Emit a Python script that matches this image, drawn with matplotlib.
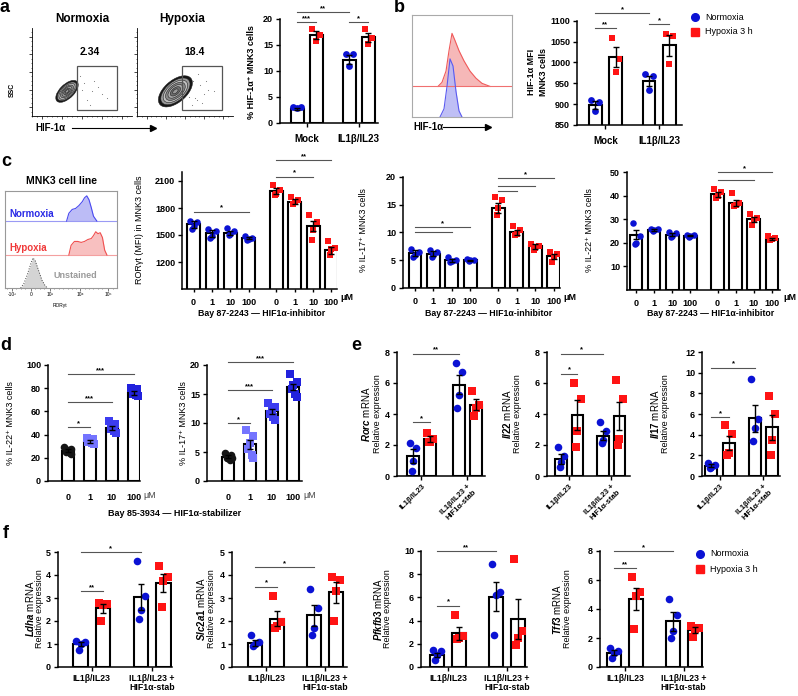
import matplotlib
matplotlib.use('Agg')
import matplotlib.pyplot as plt
from matplotlib.patches import Ellipse, Rectangle
from matplotlib.lines import Line2D

# ======================= DATA =======================
# ---- a: flow plots + % HIF-1a+ bar chart
a_flow_titles = ['Normoxia', 'Hypoxia']
a_flow_pct = ['2.34', '18.4']
a_blob_cx = [35, 40]
a_blob_cy = [28, 28]
a_blob_len = [30, 44]
a_blob_wid = [15, 24]
a_blob_ang = [50, 45]
a_ring_scale = [1.0, 0.86, 0.72, 0.58, 0.44, 0.30, 0.16]
a_ring_gray = ['#151515', '#9a9a9a', '#c0c0c0', '#8a8a8a', '#aaaaaa', '#6e6e6e', '#999999']
a_dots_nx = [50, 55, 62, 70, 58, 66, 48, 75, 52, 60]
a_dots_ny = [30, 18, 40, 25, 12, 33, 45, 20, 38, 28]
a_dots_hx = [50, 54, 58, 62, 66, 70, 74, 52, 57, 64, 68, 80, 55, 60, 72, 49]
a_dots_hy = [30, 22, 40, 18, 35, 25, 30, 45, 12, 48, 15, 28, 33, 20, 40, 38]
a_groups = ['Mock', 'IL1β/IL23']
a_means = [2.7, 16.9, 12.2, 16.5]
a_sems = [0.15, 0.8, 0.9, 0.9]
a_pts = [[3.1, 3.0, 2.9], [18.0, 17.0, 15.8], [13.3, 13.2, 11.0], [18.0, 16.3, 15.2]]
a_sig = [(0, 1, 19.4, '***'), (0, 2, 21.3, '**'), (2, 3, 19.4, '*')]

# ---- b: histogram + HIF-1a MFI
b_red_x = [26, 30, 34, 37, 40, 43, 47, 52, 58, 64, 70, 78]
b_red_h = [0, 4, 15, 35, 52, 45, 35, 25, 15, 8, 3, 0]
b_blue_x = [28, 32, 35, 38, 41, 44, 47, 50]
b_blue_h = [0, 8, 30, 57, 50, 25, 6, 0]
b_means = [898, 1013, 956, 1041]
b_sems = [10, 25, 12, 25]
b_pts = [[910, 905, 883], [1058, 1008, 977], [972, 968, 933], [1068, 1063, 997]]
b_sig = [(0, 1, 1083, '**'), (0, 2, 1119, '*'), (2, 3, 1093, '*')]

# ---- c: RORgt histograms + inhibitor dose series
c_blue_x = [55, 57, 60, 63, 66, 69, 71, 73, 75, 77, 79, 82]
c_blue_h = [0, 8, 12, 13, 16, 20, 24, 26, 22, 14, 5, 0]
c_red_x = [57, 59, 62, 65, 68, 71, 74, 77, 79, 81, 83, 85, 87, 89, 91]
c_red_h = [0, 10, 14, 14, 13, 14, 16, 17, 20, 24, 22, 23, 18, 5, 0]
c_gray_x = [14, 17, 20, 23, 25, 27, 30, 33, 36, 38]
c_gray_h = [0, 5, 14, 25, 31, 28, 18, 8, 2, 0]
c_hist_ticks = ['-10³', '0', '10³', '10⁴', '10⁵']
c_doses = ['0', '1', '10', '100']
c1_means = [1620, 1520, 1525, 1465, 1990, 1870, 1600, 1330]
c1_sems = [40, 40, 25, 10, 35, 30, 60, 40]
c1_pts = [[1660, 1640, 1600, 1570], [1570, 1540, 1490, 1470], [1580, 1540, 1510, 1500],
          [1490, 1470, 1460, 1450], [2060, 2000, 1960, 1950], [1920, 1890, 1870, 1850],
          [1720, 1640, 1560, 1450], [1430, 1360, 1340, 1280]]
c1_sig = [(0, 3, 1760, '*'), (4, 7, 2330, '**'), (4, 6, 2150, '*')]
c2_means = [6.3, 6.2, 5.0, 5.0, 14.5, 10.0, 7.5, 5.7]
c2_sems = [0.5, 0.4, 0.3, 0.1, 0.9, 0.5, 0.4, 0.5]
c2_pts = [[7.0, 6.5, 6.0, 5.6], [6.8, 6.4, 6.0, 5.6], [5.6, 5.0, 4.8, 4.6], [5.2, 5.1, 5.0, 4.9],
          [16.4, 15.8, 14.4, 13.1], [11.2, 10.5, 9.8, 9.5], [7.9, 7.5, 7.2, 6.8], [6.4, 6.1, 5.6, 4.6]]
c2_sig = [(0, 3, 11.0, '*'), (0, 2, 10.1, ''), (4, 7, 19.8, '*'), (4, 6, 18.4, ''), (4, 5, 17.5, '')]
c3_means = [23.5, 25.5, 23.5, 23.0, 40.5, 37.0, 30.0, 21.5]
c3_sems = [2.1, 0.3, 0.5, 0.3, 1.0, 1.3, 1.0, 0.5]
c3_pts = [[28.5, 23, 20, 19.5], [26, 25.8, 25.5, 25], [24.5, 24, 23, 22.5], [23.5, 23.2, 23, 22.5],
          [43, 41.5, 40, 39], [41, 37, 36, 35.5], [32, 30.5, 29.5, 27.5], [23, 22, 21.5, 21]]
c3_sig = [(4, 7, 49.8, '*'), (4, 6, 46.8, '')]

# ---- d: stabilizer dose series
d1_means = [26, 34, 46, 76]
d1_sems = [1.2, 1.0, 1.8, 1.5]
d1_pts = [[29, 28, 27, 25, 24, 23], [37, 36, 35, 34, 33, 32], [52, 49, 47, 45, 43, 41],
          [80, 79, 77, 75, 74, 73]]
d1_sig = [(0, 1, 46.5, '*'), (0, 2, 68, '***'), (0, 3, 92, '***')]
d2_means = [4.2, 6.3, 12.0, 16.2]
d2_sems = [0.2, 0.8, 0.5, 0.5]
d2_pts = [[4.8, 4.5, 4.2, 3.9, 3.7, 4.0], [8.8, 7.8, 6.5, 5.5, 4.5, 3.9], [13.5, 12.8, 12.2, 11.5, 11.0, 10.5],
          [18.5, 17.0, 16.5, 15.8, 15.0, 14.5]]
d2_sig = [(0, 1, 10.0, '*'), (0, 2, 15.7, '***'), (0, 3, 20.5, '***')]

# ---- e: qPCR
e_groups = ['IL1β/IL23', 'IL1β/IL23 +\nHIF1α-stab']
e_genes = ['Rorc', 'Il22', 'Il17']
e1_means = [1.3, 2.4, 5.9, 4.6]
e1_sems = [0.45, 0.2, 0.6, 0.35]
e1_pts = [[2.1, 1.8, 1.0, 0.3], [2.8, 2.4, 2.2, 2.2], [7.3, 6.7, 5.2, 4.4], [5.5, 4.6, 4.4, 3.9]]
e1_sig = [(0, 1, 3.5, '*'), (0, 2, 7.9, '**')]
e2_means = [1.1, 3.95, 2.6, 3.9]
e2_sems = [0.3, 0.95, 0.3, 0.9]
e2_pts = [[1.9, 1.3, 0.9, 0.6], [6.0, 5.0, 2.9, 1.9], [3.5, 2.9, 2.3, 2.1], [6.2, 5.0, 2.4, 2.0]]
e2_sig = [(0, 1, 6.6, '*'), (0, 2, 7.9, '*')]
e3_means = [1.0, 3.2, 5.6, 4.7]
e3_sems = [0.15, 0.7, 1.3, 1.2]
e3_pts = [[1.3, 1.1, 0.9, 0.8], [4.9, 4.1, 2.2, 2.0], [9.4, 5.5, 4.6, 3.4], [7.7, 6.0, 3.5, 2.0]]
e3_sig = [(0, 1, 5.7, '*'), (0, 2, 10.5, '*')]

# ---- f: qPCR
f_genes = ['Ldha', 'Slc2a1', 'Pfkfb3', 'Tff3']
f1_means = [1.0, 2.55, 3.05, 3.65]
f1_sems = [0.1, 0.2, 0.55, 0.4]
f1_pts = [[1.15, 1.1, 1.0, 0.75], [2.8, 2.75, 2.7, 2.0], [4.6, 3.1, 2.5, 2.1], [4.4, 3.9, 3.75, 2.6]]
f1_sig = [(0, 1, 3.3, '**'), (0, 2, 5.0, '*')]
f2_means = [1.05, 2.1, 2.25, 3.25]
f2_sems = [0.12, 0.33, 0.45, 0.45]
f2_pts = [[1.4, 1.1, 1.0, 0.9], [3.1, 1.95, 1.8, 1.7], [3.4, 2.55, 1.7, 1.4], [3.9, 3.8, 3.3, 2.0]]
f2_sig = [(0, 1, 3.5, '*'), (0, 2, 4.35, '*')]
f3_means = [1.05, 2.9, 6.05, 4.15]
f3_sems = [0.2, 0.55, 1.25, 1.75]
f3_pts = [[1.5, 1.4, 1.0, 0.6], [4.5, 2.7, 2.5, 2.4], [8.9, 6.5, 6.2, 2.8], [9.3, 3.1, 2.5, 1.9]]
f3_sig = [(0, 1, 5.3, '*'), (0, 2, 10.0, '**')]
f4_means = [1.0, 4.7, 3.15, 2.55]
f4_sems = [0.15, 0.75, 0.65, 0.2]
f4_pts = [[1.3, 1.1, 1.0, 0.6], [6.2, 5.2, 4.9, 2.6], [4.7, 3.6, 2.5, 2.0], [2.8, 2.7, 2.6, 2.1]]
f4_sig = [(0, 1, 6.8, '**'), (0, 2, 8.0, '*')]

legend_labels = ['Normoxia', 'Hypoxia 3 h']

# ======================= STYLE / HELPERS =======================
W, H = 798, 696
plt.rcParams['font.family'] = ['Liberation Sans', 'DejaVu Sans']
plt.rcParams['font.weight'] = 'bold'
plt.rcParams['mathtext.fontset'] = 'custom'
plt.rcParams['mathtext.it'] = 'Liberation Sans:italic'
plt.rcParams['mathtext.rm'] = 'Liberation Sans'
BLUE = '#0b12d4'
RED = '#ff1414'
NH_COL = [BLUE, RED, BLUE, RED]
NH_MK = ['o', 's', 'o', 's']

fig = plt.figure(figsize=(W / 100, H / 100), dpi=100)


def ax_px(l, t, r, b):
    return fig.add_axes([l / W, 1 - b / H, (r - l) / W, (b - t) / H])


def ftxt(x, y, s, **kw):
    kw.setdefault('ha', 'center')
    kw.setdefault('va', 'center')
    fig.text(x / W, 1 - y / H, s, **kw)


def style_bar_ax(ax, xlim, ylim, yticks, ls=6.5):
    ax.set_xlim(*xlim)
    ax.set_ylim(*ylim)
    for s in ['top', 'right']:
        ax.spines[s].set_visible(False)
    for s in ['left', 'bottom']:
        ax.spines[s].set_linewidth(1.1)
    ax.set_yticks(yticks)
    ax.tick_params(axis='both', length=3, width=1, labelsize=ls, pad=2)
    ax.patch.set_alpha(0)


JIT = [-0.28, 0.28, 0.0, -0.12, 0.14, 0.3, -0.3]


def draw_bars(ax, pos, means, sems, pts, cols, mks, width, ms=24):
    for i, p in enumerate(pos):
        ax.bar(p, means[i], width=width, color='white', edgecolor='black', linewidth=1.5, zorder=2)
        ys = pts[i]
        xs = [p + JIT[k % len(JIT)] * width for k in range(len(ys))]
        ax.scatter(xs, ys, s=ms, c=cols[i], marker=mks[i], zorder=3, linewidths=0, clip_on=False)
        ax.errorbar(p, means[i], yerr=sems[i], color='black', capsize=2.5, elinewidth=1,
                    capthick=1, zorder=4)


def draw_sig(ax, pos, sigs, color='#555555'):
    for i, j, y, lab in sigs:
        ax.plot([pos[i], pos[j]], [y, y], color=color, lw=0.8, clip_on=False, zorder=5)
        if lab:
            ax.text((pos[i] + pos[j]) / 2, y, lab, ha='center', va='bottom', fontsize=5.5,
                    clip_on=False)


def arrow_label(x0, y, x1, x2):
    ftxt(x0, y, 'HIF-1α', ha='left', fontsize=7)
    fig.add_artist(plt.Line2D([x1 / W, x2 / W], [1 - y / H, 1 - y / H], color='black', lw=0.8,
                              transform=fig.transFigure))
    fig.add_artist(plt.Line2D([x2 / W], [1 - y / H], marker='>', color='black', markersize=5,
                              transform=fig.transFigure))


def legend_at(x, y):
    fig.add_artist(Line2D([x / W], [1 - y / H], marker='o', color=BLUE, markersize=5.5,
                          linestyle='none', transform=fig.transFigure))
    fig.add_artist(Line2D([x / W], [1 - (y + 15) / H], marker='s', color=RED, markersize=5.5,
                          linestyle='none', transform=fig.transFigure))
    ftxt(x + 10, y, legend_labels[0], ha='left', fontsize=6.5, fontweight='normal')
    ftxt(x + 10, y + 15, legend_labels[1], ha='left', fontsize=6.5, fontweight='normal')


# ======================= PANEL a =======================
ftxt(5, 8, 'a', fontsize=13)
flow_boxes = [(32, 28, 132, 116), (137, 28, 233, 116)]
gates = [(45, 7, 40, 50), (47, 7, 42, 50)]
dots = [(a_dots_nx, a_dots_ny), (a_dots_hx, a_dots_hy)]
for k in range(2):
    ax = ax_px(*flow_boxes[k])
    ax.set_xlim(0, 100)
    ax.set_ylim(0, 100)
    for s in ['top', 'right']:
        ax.spines[s].set_visible(False)
    for s in ['left', 'bottom']:
        ax.spines[s].set_linewidth(0.6)
    ax.set_xticks([10, 30, 50, 70, 90])
    ax.set_yticks([10, 30, 50, 70, 90])
    ax.set_xticks(range(0, 100, 5), minor=True)
    ax.set_yticks(range(0, 100, 5), minor=True)
    ax.tick_params(which='major', length=2, width=0.5, labelbottom=False, labelleft=False)
    ax.tick_params(which='minor', length=1, width=0.4)
    ax.scatter(dots[k][0], dots[k][1], s=0.6, c='#777777', linewidths=0)
    for sc, g in zip(a_ring_scale, a_ring_gray):
        ax.add_patch(Ellipse((a_blob_cx[k], a_blob_cy[k]), a_blob_len[k] * sc, a_blob_wid[k] * sc,
                             angle=a_blob_ang[k], facecolor=g, edgecolor='#202020', lw=0.4))
    gx, gy, gw, gh = gates[k]
    ax.add_patch(Rectangle((gx, gy), gw, gh, fill=False, edgecolor='#555555', lw=0.9))
ftxt(82, 19, a_flow_titles[0], fontsize=8.5)
ftxt(182, 19, a_flow_titles[1], fontsize=8.5)
ftxt(90, 52, a_flow_pct[0], fontsize=7.5)
ftxt(195, 52, a_flow_pct[1], fontsize=7.5)
ftxt(12, 90, 'SSC', rotation=90, fontsize=5)
arrow_label(35, 128, 72, 153)

pos4 = [0, 1, 2.74, 3.74]
ax = ax_px(280, 19, 378, 123)
style_bar_ax(ax, (-0.9, 4.26), (0, 20), [0, 5, 10, 15, 20])
draw_bars(ax, pos4, a_means, a_sems, a_pts, NH_COL, NH_MK, 0.68)
draw_sig(ax, pos4, a_sig)
ax.set_xticks([0.5, 3.24])
ax.set_xticklabels(a_groups, fontsize=7)
ax.tick_params(axis='x', pad=5)
ftxt(251, 72, '% HIF-1α⁺ MNK3 cells', rotation=90, fontsize=6.5)

# ======================= PANEL b =======================
ftxt(399, 8, 'b', fontsize=13)
ax = ax_px(412, 15, 512, 117)
ax.set_xlim(0, 100)
ax.set_ylim(0, 100)
ax.set_xticks([])
ax.set_yticks([])
for s in ax.spines.values():
    s.set_color('#aaaaaa')
    s.set_linewidth(0.8)
base_r = 30
ax.fill_between(b_red_x, base_r, [base_r + h for h in b_red_h], color='#f6b8b8', lw=0)
ax.plot(b_red_x, [base_r + h for h in b_red_h], color='#f05a5a', lw=0.8)
ax.axhline(base_r, color='#f07070', lw=0.8)
ax.fill_between(b_blue_x, 0, b_blue_h, color='#b8b8f4', lw=0, alpha=0.9)
ax.plot(b_blue_x, b_blue_h, color='#5a5af0', lw=0.8)
arrow_label(413, 127, 443, 488)

pos4b = [0, 1, 2.63, 3.63]
ax = ax_px(577, 21, 682, 124.75)
style_bar_ax(ax, (-0.88, 4.24), (850, 1100), [850, 900, 950, 1000, 1050, 1100])
draw_bars(ax, pos4b, b_means, b_sems, b_pts, NH_COL, NH_MK, 0.63)
draw_sig(ax, pos4b, b_sig)
ax.set_xticks([0.5, 3.13])
ax.set_xticklabels(a_groups, fontsize=7)
ax.tick_params(axis='x', pad=5)
ftxt(531, 72, 'HIF-1α MFI', rotation=90, fontsize=6.5)
ftxt(543, 72, 'MNK3 cells', rotation=90, fontsize=6.5)
legend_at(695, 17)

# ======================= PANEL c =======================
ftxt(6, 161, 'c', fontsize=13)
ftxt(62, 181, 'MNK3 cell line', fontsize=7.5)
ax = ax_px(5, 191, 117, 288)
ax.set_xlim(0, 100)
ax.set_ylim(0, 100)
ax.set_yticks([])
for s in ax.spines.values():
    s.set_color('#999999')
    s.set_linewidth(0.8)
ax.set_xticks([6, 23, 40, 67, 92])
ax.set_xticklabels(c_hist_ticks, fontsize=3.5, fontweight='normal')
ax.set_xticks([2, 10, 14, 18, 27, 31, 35, 44, 48, 52, 56, 60, 63, 71, 75, 79, 83, 87, 96], minor=True)
ax.tick_params(which='major', length=2, width=0.5, pad=1, color='#444444')
ax.tick_params(which='minor', length=1, width=0.4, color='#444444')
bb, br = 69, 34
ax.axhline(bb, color='#9a9af4', lw=0.8)
ax.fill_between(c_blue_x, bb, [bb + h for h in c_blue_h], color='#bcbcf6', lw=0)
ax.plot(c_blue_x, [bb + h for h in c_blue_h], color='#4a4af0', lw=0.8)
ax.axhline(br, color='#f4a0a0', lw=0.8)
ax.fill_between(c_red_x, br, [br + h for h in c_red_h], color='#f8c0c0', lw=0)
ax.plot(c_red_x, [br + h for h in c_red_h], color='#f05050', lw=0.8)
ax.fill_between(c_gray_x, 0, c_gray_h, color='#d4d4d4', lw=0)
ax.plot(c_gray_x, c_gray_h, color='#444444', lw=0.7, ls=':')
ftxt(9, 214, 'Normoxia', ha='left', fontsize=7, color='#2a2ae6')
ftxt(9, 248, 'Hypoxia', ha='left', fontsize=7, color='#f03a3a')
ftxt(75, 275, 'Unstained', fontsize=6.5, color='#9a9a9a')
ftxt(60, 305, 'RORγt', fontsize=3.5, fontweight='normal')

pos8 = [0, 1, 2, 3, 4.5, 5.5, 6.5, 7.5]
c_specs = [
    ((182, 172, 337, 289), (-0.63, 7.8), (900, 2200), [1200, 1500, 1800, 2100],
     c1_means, c1_sems, c1_pts, c1_sig, 'RORγt (MFI) in MNK3 cells', 140, 347, 262),
    ((403, 177, 560, 288), (-0.65, 7.85), (0, 20), [0, 5, 10, 15, 20],
     c2_means, c2_sems, c2_pts, c2_sig, '% IL-17⁺ MNK3 cells', 363, 570, 489),
    ((627, 172, 780, 290), (-0.5, 7.95), (0, 50), [10, 20, 30, 40, 50],
     c3_means, c3_sems, c3_pts, c3_sig, '% IL-22⁺ MNK3 cells', 590, 790, 711),
]
for rect, xl, yl, yt, m, se, p, sg, ylab, ylx, mux, xlx in c_specs:
    ax = ax_px(*rect)
    style_bar_ax(ax, xl, yl, yt)
    draw_bars(ax, pos8, m, se, p, [BLUE] * 4 + [RED] * 4, ['o'] * 4 + ['s'] * 4, 0.7, ms=22)
    draw_sig(ax, pos8, sg)
    ax.set_xticks(pos8)
    ax.set_xticklabels(c_doses * 2, fontsize=6.5)
    ax.tick_params(axis='x', length=2.5, pad=4)
    ftxt(ylx, 230, ylab, rotation=90, fontsize=6.5, fontweight='normal')
    ftxt(mux, 298, 'μM', fontsize=6.5)
    ftxt(xlx, 313, 'Bay 87-2243 — HIF1α-inhibitor', fontsize=6.3)

# ======================= PANEL d =======================
ftxt(6, 345, 'd', fontsize=13)
pos_d = [0, 1, 2, 3]
d_cols = ['#151515', '#7474ff', '#3c3cf0', '#2222dd']
d_mks = ['o', 's', 's', 's']
d_specs = [
    ((48, 365, 140, 481), (-0.9, 3.27), (0, 100), [0, 20, 40, 60, 80, 100], d1_means, d1_sems, d1_pts,
     d1_sig, '% IL-22⁺ MNK3 cells', 11, 150),
    ((207, 365, 302, 481), (-0.97, 3.4), (0, 20), [0, 5, 10, 15, 20], d2_means, d2_sems, d2_pts,
     d2_sig, '% IL-17⁺ MNK3 cells', 184, 310),
]
for rect, xl, yl, yt, m, se, p, sg, ylab, ylx, mux in d_specs:
    ax = ax_px(*rect)
    style_bar_ax(ax, xl, yl, yt)
    draw_bars(ax, pos_d, m, se, p, d_cols, d_mks, 0.55, ms=30)
    draw_sig(ax, pos_d, sg)
    ax.set_xticks(pos_d)
    ax.set_xticklabels(c_doses, fontsize=6.5)
    ax.tick_params(axis='x', length=0, pad=9)
    ftxt(ylx, 423, ylab, rotation=90, fontsize=6.5, fontweight='normal')
    ftxt(mux, 495, 'μM', fontsize=6.5, fontweight='normal', color='#444444')
ftxt(175, 513, 'Bay 85-3934 — HIF1α-stabilizer', fontsize=6.5)

# ======================= PANEL e =======================
ftxt(356, 345, 'e', fontsize=13)
e_specs = [
    ((397, 352, 485, 476), [0, 1, 2.7, 3.7], (-0.94, 4.24), (0, 8), [0, 2, 4, 6, 8],
     e1_means, e1_sems, e1_pts, e1_sig, 366, 377),
    ((547, 352, 630, 476), [0, 1, 2.55, 3.55], (-0.85, 4.2), (0, 8), [0, 2, 4, 6, 8],
     e2_means, e2_sems, e2_pts, e2_sig, 507, 518),
    ((702, 352, 780, 476), [0, 1, 2.53, 3.53], (-0.55, 4.0), (0, 12), [0, 2, 4, 6, 8, 10, 12],
     e3_means, e3_sems, e3_pts, e3_sig, 655, 666),
]
for k, (rect, pos, xl, yl, yt, m, se, p, sg, x1, x2) in enumerate(e_specs):
    ax = ax_px(*rect)
    style_bar_ax(ax, xl, yl, yt)
    draw_bars(ax, pos, m, se, p, NH_COL, NH_MK, 0.7, ms=30)
    draw_sig(ax, pos, sg)
    ax.set_xticks([(pos[0] + pos[1]) / 2, (pos[2] + pos[3]) / 2])
    ax.set_xticklabels(e_groups, fontsize=5.5, rotation=45, ha='right', rotation_mode='anchor')
    ftxt(x1, 414, r'$\mathit{' + e_genes[k] + '}$ mRNA', rotation=90, fontsize=7, fontweight='normal')
    ftxt(x2, 414, 'Relative expression', rotation=90, fontsize=6.5, fontweight='normal')

# ======================= PANEL f =======================
ftxt(6, 533, 'f', fontsize=13)
pos_f = [0, 1, 2.67, 3.67]
f_specs = [
    ((58, 552, 172, 667), (-1.0, 4.05), (0, 5), [0, 1, 2, 3, 4, 5], f1_means, f1_sems, f1_pts, f1_sig, 30, 40),
    ((232, 552, 347, 667), (-1.05, 4.18), (0, 5), [0, 1, 2, 3, 4, 5], f2_means, f2_sems, f2_pts, f2_sig, 201, 211),
    ((421, 551, 527, 667), (-0.73, 4.09), (0, 10), [0, 2, 4, 6, 8, 10], f3_means, f3_sems, f3_pts, f3_sig, 378, 388),
    ((600, 551, 703, 667), (-0.64, 4.05), (0, 8), [0, 2, 4, 6, 8], f4_means, f4_sems, f4_pts, f4_sig, 557, 568),
]
for k, (rect, xl, yl, yt, m, se, p, sg, x1, x2) in enumerate(f_specs):
    ax = ax_px(*rect)
    style_bar_ax(ax, xl, yl, yt)
    draw_bars(ax, pos_f, m, se, p, NH_COL, NH_MK, 0.65, ms=30)
    draw_sig(ax, pos_f, sg)
    ax.set_xticks([0.5, 3.17])
    ax.set_xticklabels(e_groups, fontsize=6.3, linespacing=1.0)
    ax.tick_params(axis='x', pad=2)
    ftxt(x1, 609, r'$\mathit{' + f_genes[k] + '}$ mRNA', rotation=90, fontsize=7, fontweight='normal')
    ftxt(x2, 609, 'Relative expression', rotation=90, fontsize=6.5, fontweight='normal')
legend_at(700, 554)

fig.savefig('out.png', dpi=100)
